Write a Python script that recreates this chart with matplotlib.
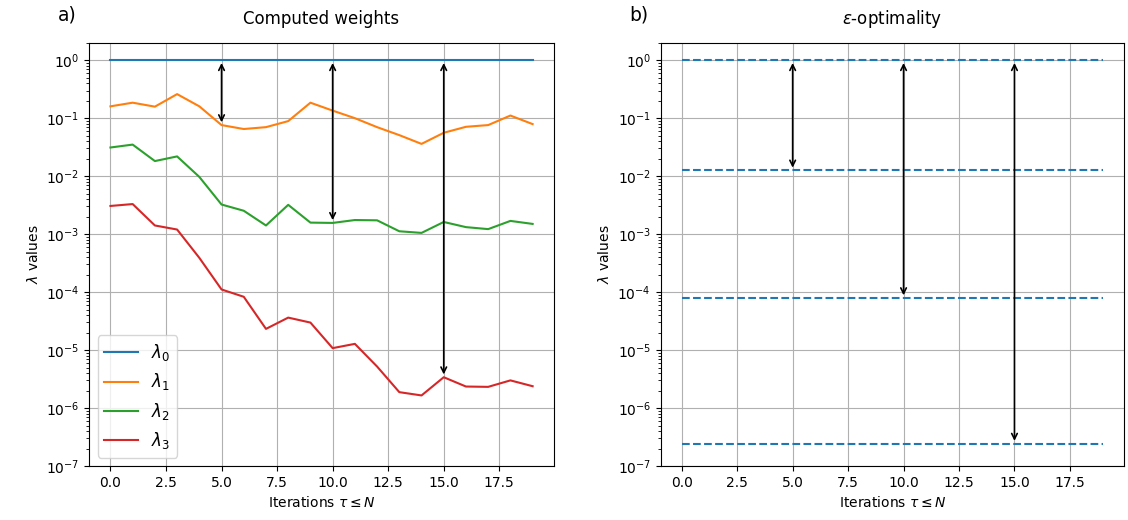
import numpy as np
import matplotlib
matplotlib.use("Agg")
import matplotlib.pyplot as plt

iterations = list(range(20))
lambda0 = [1.0] * 20
lambda1 = [0.160, 0.185, 0.158, 0.26, 0.16, 0.076, 0.065, 0.070, 0.089, 0.185,
           0.135, 0.100, 0.070, 0.051, 0.036, 0.056, 0.071, 0.076, 0.111, 0.079]
lambda2 = [0.0312, 0.035, 0.0182, 0.0219, 0.0097, 0.00324, 0.00253, 0.00141, 0.0032, 0.00158,
           0.00156, 0.00175, 0.00173, 0.00112, 0.00105, 0.00162, 0.00132, 0.00122, 0.00169, 0.0015]
lambda3 = [3.06e-3, 3.3e-3, 1.41e-3, 1.2e-3, 3.9e-4, 1.11e-4, 8.3e-5, 2.32e-5, 3.63e-5, 2.98e-5,
           1.08e-5, 1.28e-5, 5.2e-6, 1.88e-6, 1.65e-6, 3.4e-6, 2.35e-6, 2.32e-6, 3.0e-6, 2.38e-6]
eps_levels = [1.0, 1.253e-2, 7.88e-5, 2.43e-7]
labels = [r"$\lambda_0$", r"$\lambda_1$", r"$\lambda_2$", r"$\lambda_3$"]
arrow_x = [5, 10, 15]

fig = plt.figure(figsize=(11.28, 5.2), dpi=100)
axL = fig.add_axes([0.0792, 0.1038, 0.4117, 0.814])
axR = fig.add_axes([0.5857, 0.1038, 0.4110, 0.814])

series = [lambda0, lambda1, lambda2, lambda3]
for s, lab in zip(series, labels):
    axL.plot(iterations, s, label=lab)
for k, xa in enumerate(arrow_x):
    axL.annotate("", xy=(xa, series[k + 1][xa]), xytext=(xa, lambda0[xa]),
                 arrowprops=dict(arrowstyle="<->", color="k", lw=1.2))
axL.legend(loc="lower left", fontsize=12)
axL.set_title("Computed weights", fontsize=12, pad=13.5)

for e in eps_levels:
    axR.plot(iterations, [e] * len(iterations), "--", color="C0")
for k, xa in enumerate(arrow_x):
    axR.annotate("", xy=(xa, eps_levels[k + 1]), xytext=(xa, eps_levels[0]),
                 arrowprops=dict(arrowstyle="<->", color="k", lw=1.2))
axR.set_title(r"$\epsilon$-optimality", fontsize=12, pad=13.5)

for ax, tag in zip([axL, axR], ["a)", "b)"]):
    ax.set_yscale("log")
    ax.set_ylim(1e-7, 2)
    ax.grid(True)
    ax.set_xlabel(r"Iterations $\tau \leq N$")
    ax.set_ylabel(r"$\lambda$ values")
    ax.text(-0.068, 1.053, tag, transform=ax.transAxes, fontsize=13.5)

fig.savefig("out.png", dpi=100)
